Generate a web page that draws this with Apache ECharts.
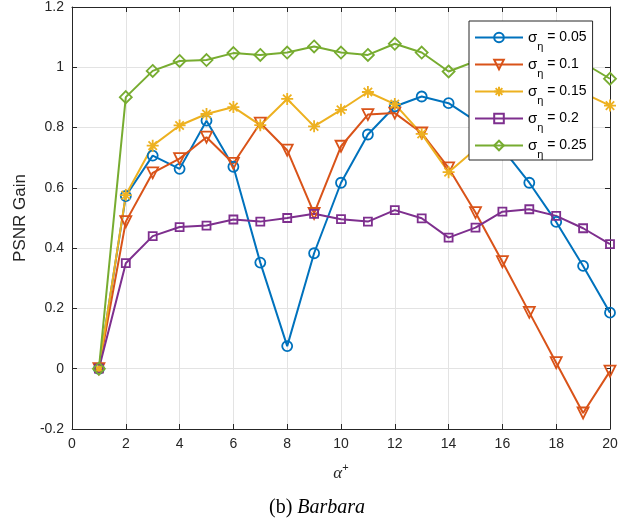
<!DOCTYPE html>
<html>
<head>
<meta charset="utf-8">
<script src="https://cdn.jsdelivr.net/npm/echarts@6/dist/echarts.min.js"></script>
<style>
html,body{margin:0;padding:0;background:#fff;}
#chart{width:644px;height:522px;}
</style>
</head>
<body>
<div id="chart"></div>
<script>
// ---- data ----
const alphaValues = [1,2,3,4,5,6,7,8,9,10,11,12,13,14,15,16,17,18,19,20];
const sigma005 = [0,0.573,0.707,0.663,0.823,0.670,0.352,0.075,0.383,0.617,0.777,0.870,0.903,0.881,0.822,0.73,0.617,0.487,0.341,0.186];
const sigma010 = [0,0.488,0.650,0.697,0.768,0.681,0.815,0.725,0.515,0.738,0.843,0.848,0.782,0.666,0.518,0.355,0.187,0.020,-0.147,-0.008];
const sigma015 = [0,0.576,0.740,0.807,0.845,0.868,0.808,0.895,0.804,0.859,0.918,0.878,0.779,0.652,0.728,0.80,0.86,0.89,0.915,0.873];
const sigma020 = [0,0.350,0.440,0.470,0.475,0.495,0.488,0.500,0.514,0.496,0.488,0.526,0.499,0.435,0.468,0.521,0.529,0.507,0.466,0.413];
const sigma025 = [0,0.901,0.988,1.021,1.024,1.047,1.041,1.049,1.069,1.049,1.041,1.078,1.049,0.986,1.02,1.03,1.04,1.03,1.015,0.962];
const seriesLabels = ['0.05','0.1','0.15','0.2','0.25'];
const xTicks = {min:0, max:20, interval:2};
const yTicks = {min:-0.2, max:1.2, interval:0.2};

const colors = ['#0072BD','#D95319','#EDB120','#7E2F8E','#77AC30'];
const symbols = [
  'circle',
  'path://M-1,-0.9L1,-0.9L0,0.9Z',
  'path://M0,-1L0,1M-1,0L1,0M-0.7,-0.7L0.7,0.7M-0.7,0.7L0.7,-0.7',
  'rect',
  'diamond'
];
const sizes = [10,11,12,8,12];
const allData = [sigma005,sigma010,sigma015,sigma020,sigma025];
const FONT = '"Liberation Sans", Arial, Helvetica, sans-serif';
const SERIF = '"Liberation Serif", "Times New Roman", serif';
const AX = '#262626';

const series = allData.map((vals,i)=>({
  name: seriesLabels[i],
  type: 'line',
  xAxisIndex: 0, yAxisIndex: 0,
  data: alphaValues.map((a,k)=>[a, vals[k]]),
  symbol: symbols[i],
  symbolSize: sizes[i],
  showSymbol: true,
  showAllSymbol: true,
  lineStyle: {color: colors[i], width: 2},
  itemStyle: {color: 'rgba(0,0,0,0)', borderColor: colors[i], borderWidth: 1.8},
  emphasis: {disabled: true}
}));

const chart = echarts.init(document.getElementById('chart'), null, {renderer:'canvas'});
chart.setOption({
  animation: false,
  backgroundColor: '#fff',
  grid: {left: 72, right: 34, top: 5, bottom: 93, containLabel: false},
  title: {
    text: '{n|(b) }{i|Barbara}',
    left: 264, top: 493,
    textStyle: {
      fontWeight: 'normal',
      rich: {
        n: {fontFamily: SERIF, fontSize: 20, fontWeight: 'normal', color: '#000'},
        i: {fontFamily: SERIF, fontSize: 20, fontWeight: 'normal', fontStyle: 'italic', color: '#000'}
      }
    }
  },
  legend: {
    orient: 'vertical',
    left: 469, top: 21,
    padding: [9, 6, 0, 5],
    itemGap: 5,
    itemWidth: 48, itemHeight: 12,
    backgroundColor: '#fff',
    borderColor: AX, borderWidth: 1,
    borderRadius: 0,
    data: seriesLabels,
    formatter: name => '{s|σ}{b|η}{t| = ' + name + '}',
    textStyle: {
      rich: {
        s: {fontFamily: FONT, fontSize: 15, color: '#000', verticalAlign: 'middle'},
        b: {fontFamily: FONT, fontSize: 11, color: '#000', padding: [18,0,0,0], verticalAlign: 'middle'},
        t: {fontFamily: FONT, fontSize: 14, color: '#000', verticalAlign: 'middle'}
      }
    }
  },
  xAxis: [{
    type: 'value', min: xTicks.min, max: xTicks.max, interval: xTicks.interval,
    position: 'bottom',
    name: '{a|α}{p|+}', nameLocation: 'middle', nameGap: 33,
    nameTextStyle: {
      rich: {
        a: {fontFamily: SERIF, fontStyle: 'italic', fontSize: 17, color: '#262626'},
        p: {fontFamily: FONT, fontSize: 11, color: '#262626', padding: [0,0,12,0]}
      }
    },
    axisLine: {show: true, onZero: false, lineStyle: {color: AX, width: 1}},
    axisTick: {show: true, inside: true, length: 5, lineStyle: {color: AX}},
    axisLabel: {fontFamily: FONT, fontSize: 14, color: AX, margin: 8},
    splitLine: {show: true, lineStyle: {color: '#e3e3e3', width: 1}}
  },{
    type: 'value', min: xTicks.min, max: xTicks.max, interval: xTicks.interval,
    position: 'top',
    axisLine: {show: true, onZero: false, lineStyle: {color: AX, width: 1}},
    axisTick: {show: true, inside: true, length: 5, lineStyle: {color: AX}},
    axisLabel: {show: false},
    splitLine: {show: false}
  }],
  yAxis: [{
    type: 'value', min: yTicks.min, max: yTicks.max, interval: yTicks.interval,
    position: 'left',
    name: 'PSNR Gain', nameLocation: 'middle', nameGap: 41,
    nameTextStyle: {fontFamily: FONT, fontSize: 17, color: AX},
    axisLine: {show: true, onZero: false, lineStyle: {color: AX, width: 1}},
    axisTick: {show: true, inside: true, length: 5, lineStyle: {color: AX}},
    axisLabel: {fontFamily: FONT, fontSize: 14, color: AX, margin: 8,
      formatter: v => String(+v.toFixed(1))},
    splitLine: {show: true, lineStyle: {color: '#e3e3e3', width: 1}}
  },{
    type: 'value', min: yTicks.min, max: yTicks.max, interval: yTicks.interval,
    position: 'right',
    axisLine: {show: true, onZero: false, lineStyle: {color: AX, width: 1}},
    axisTick: {show: true, inside: true, length: 5, lineStyle: {color: AX}},
    axisLabel: {show: false},
    splitLine: {show: false}
  }],
  series: series
});
</script>
</body>
</html>
